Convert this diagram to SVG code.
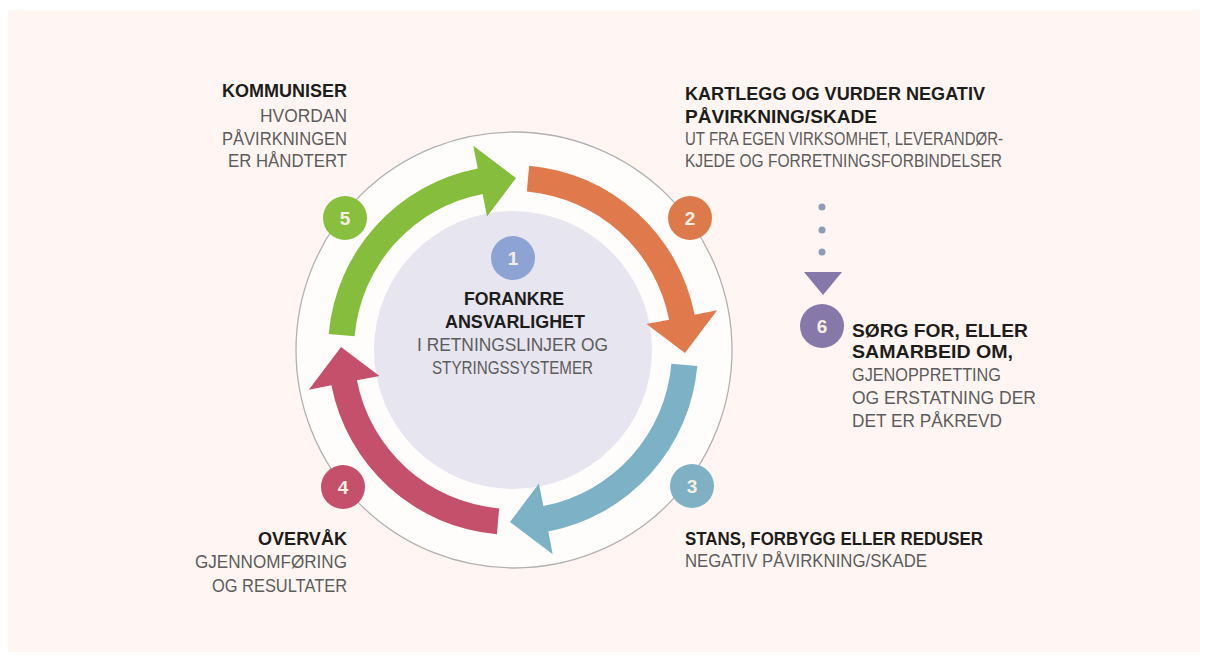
<svg xmlns="http://www.w3.org/2000/svg" xmlns:xlink="http://www.w3.org/1999/xlink" width="1208" height="662" viewBox="0 0 1208 662">
<style>
.b{font-family:"Liberation Sans",Arial,sans-serif;font-weight:700;font-size:19px;fill:#1d1d1b}
.l{font-family:"Liberation Sans",Arial,sans-serif;font-weight:400;font-size:18.5px;fill:#5c5c5c}
.n{font-family:"Liberation Sans",Arial,sans-serif;font-weight:700;font-size:19px;fill:#f6efe2;text-anchor:middle}
</style>
<defs>
<path id="arrow" d="M 529.12 165.70 A 185 185 0 0 1 694.60 314.70 L 717.18 310.31 L 684.97 353.00 L 646.50 324.05 L 669.08 319.66 A 159 159 0 0 0 526.86 191.61 Z"/>
</defs>
<rect x="0" y="0" width="1208" height="662" fill="#ffffff"/>
<rect x="8" y="10" width="1192" height="642" fill="#fff6f3"/>
<circle cx="514" cy="350" r="218" fill="#fffdfc" stroke="#b3b0b2" stroke-width="1.3"/>
<g id="node1">
<circle cx="513" cy="350" r="139" fill="#e7e5ef"/>
<circle cx="513" cy="258" r="22" fill="#8da3d4"/>
<text class="n" x="513" y="265">1</text>
<text class="b" x="464" y="305" textLength="100" lengthAdjust="spacingAndGlyphs">FORANKRE</text>
<text class="b" x="445" y="328" textLength="140" lengthAdjust="spacingAndGlyphs">ANSVARLIGHET</text>
<text class="l" x="417" y="351" textLength="191" lengthAdjust="spacingAndGlyphs">I RETNINGSLINJER OG</text>
<text class="l" x="432" y="374" textLength="161" lengthAdjust="spacingAndGlyphs">STYRINGSSYSTEMER</text>
</g>
<g id="connectors">
<use xlink:href="#arrow" fill="#e07a4c"/>
<use xlink:href="#arrow" fill="#7db2c6" transform="rotate(90 513 350)"/>
<use xlink:href="#arrow" fill="#c4506c" transform="rotate(180 513 350)"/>
<use xlink:href="#arrow" fill="#86bd3c" transform="rotate(270 513 350)"/>
<g fill="#8f9ab5">
<circle cx="822" cy="207" r="3.5"/>
<circle cx="822" cy="230" r="3.5"/>
<circle cx="822" cy="252" r="3.5"/>
</g>
<polygon points="804,272 842,272 823,295" fill="#8679a9"/>
</g>
<g id="node2">
<circle cx="690" cy="218" r="22" fill="#dd7a4c"/>
<text class="n" x="690" y="225">2</text>
<text class="b" x="685" y="100" textLength="300" lengthAdjust="spacingAndGlyphs">KARTLEGG OG VURDER NEGATIV</text>
<text class="b" x="685" y="123" textLength="192" lengthAdjust="spacingAndGlyphs">PÅVIRKNING/SKADE</text>
<text class="l" x="685" y="145" textLength="318" lengthAdjust="spacingAndGlyphs">UT FRA EGEN VIRKSOMHET, LEVERANDØR-</text>
<text class="l" x="685" y="167" textLength="317" lengthAdjust="spacingAndGlyphs">KJEDE OG FORRETNINGSFORBINDELSER</text>
</g>
<g id="node3">
<circle cx="692" cy="486" r="22" fill="#7fb0c4"/>
<text class="n" x="692" y="493">3</text>
<text class="b" x="685" y="545" textLength="298" lengthAdjust="spacingAndGlyphs">STANS, FORBYGG ELLER REDUSER</text>
<text class="l" x="685" y="567" textLength="242" lengthAdjust="spacingAndGlyphs">NEGATIV PÅVIRKNING/SKADE</text>
</g>
<g id="node4">
<circle cx="343" cy="487" r="22" fill="#c4506c"/>
<text class="n" x="343" y="494">4</text>
<text class="b" x="258" y="545" textLength="89" lengthAdjust="spacingAndGlyphs">OVERVÅK</text>
<text class="l" x="195" y="568" textLength="152" lengthAdjust="spacingAndGlyphs">GJENNOMFØRING</text>
<text class="l" x="212" y="592" textLength="135" lengthAdjust="spacingAndGlyphs">OG RESULTATER</text>
</g>
<g id="node5">
<circle cx="345" cy="218" r="22" fill="#88bf3f"/>
<text class="n" x="345" y="225">5</text>
<text class="b" x="222" y="97" textLength="125" lengthAdjust="spacingAndGlyphs">KOMMUNISER</text>
<text class="l" x="260" y="122" textLength="87" lengthAdjust="spacingAndGlyphs">HVORDAN</text>
<text class="l" x="222" y="145" textLength="125" lengthAdjust="spacingAndGlyphs">PÅVIRKNINGEN</text>
<text class="l" x="228" y="167" textLength="119" lengthAdjust="spacingAndGlyphs">ER HÅNDTERT</text>
</g>
<g id="node6">
<circle cx="822" cy="326" r="22" fill="#8679a9"/>
<text class="n" x="822" y="333">6</text>
<text class="b" x="852" y="337" textLength="176" lengthAdjust="spacingAndGlyphs">SØRG FOR, ELLER</text>
<text class="b" x="852" y="358" textLength="161" lengthAdjust="spacingAndGlyphs">SAMARBEID OM,</text>
<text class="l" x="852" y="381" textLength="149" lengthAdjust="spacingAndGlyphs">GJENOPPRETTING</text>
<text class="l" x="852" y="404" textLength="184" lengthAdjust="spacingAndGlyphs">OG ERSTATNING DER</text>
<text class="l" x="852" y="427" textLength="150" lengthAdjust="spacingAndGlyphs">DET ER PÅKREVD</text>
</g>
</svg>
